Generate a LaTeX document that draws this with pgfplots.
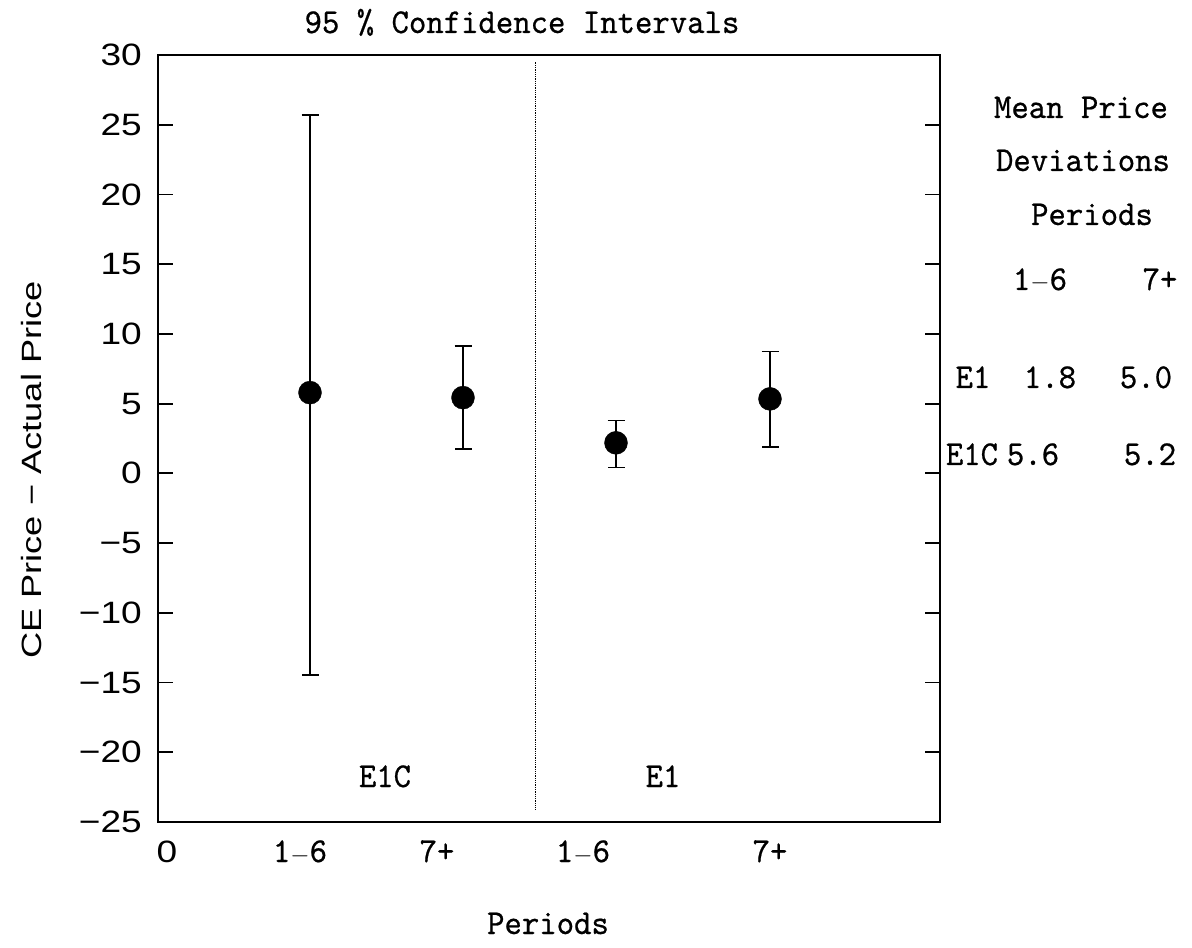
\documentclass[border=0pt]{standalone}
\usepackage{pgfplots}
\pgfplotsset{compat=1.18}
\usepackage{fontspec}
\newfontfamily\psans[FakeStretch=1.2]{Liberation Sans}
\newfontfamily\plab[FakeStretch=1.3]{Liberation Sans}
\newfontfamily\pmono[Extension=.otf, FakeBold=0.6, FakeStretch=0.95]{lmmono10-regular}
\newcommand{\monosz}{\pmono\fontsize{35}{40}\selectfont}
\newcommand{\ysz}{\psans\fontsize{31}{36}\selectfont}
\newcommand{\labsz}{\plab\fontsize{28}{33}\selectfont}
\newcommand{\mm}{\ensuremath{-}}
\begin{document}
\begin{tikzpicture}
\useasboundingbox (-158bp,-126bp) rectangle (1034bp,822bp);
\begin{axis}[
  at={(0,0)}, anchor=south west,
  scale only axis, width=782bp, height=767bp,
  xmin=0, xmax=782, ymin=-25, ymax=30,
  axis line style={line width=2.4bp},
  ytick={-25,-20,-15,-10,-5,0,5,10,15,20,25,30},
  yticklabels={{\ysz −25},{\ysz −20},{\ysz −15},{\ysz −10},{\ysz −5},{\ysz 0},{\ysz 5},{\ysz 10},{\ysz 15},{\ysz 20},{\ysz 25},{\ysz 30}},
  yticklabel style={inner sep=0pt, xshift=-16bp},
  ytick pos=both, yticklabel pos=left, tick align=inside,
  major tick length=15bp,
  every tick/.style={black, line width=1.8bp},
  xtick={9,142,279,425,612},
  xticklabels={{\ysz 0},{\monosz 1\mm6},{\monosz 7+},{\monosz 1\mm6},{\monosz 7+}},
  xtick style={draw=none},
  xticklabel style={inner sep=0pt, anchor=base, yshift=-40bp},
  clip=false,
]
\addplot[black, densely dotted, line width=0.8bp] coordinates {(377,-24.1) (377,29.5)};
\addplot[black, only marks, mark=*, mark size=11.5bp, mark options={fill=black},
  error bars/.cd, y dir=both, y explicit,
  error bar style={line width=1.5bp, black},
  error mark options={line width=1.6bp, mark size=8.5bp, rotate=90, black}]
  table[x=x, y=y, y error plus=ep, y error minus=em] {
x y ep em
152 5.79 19.91 20.23
305 5.43 3.71 3.67
458 2.19 1.60 1.77
612 5.34 3.39 3.46
};
\end{axis}
% inner group labels
\node[anchor=base, inner sep=0pt, font=\monosz] at (227bp,35bp) {E1C};
\node[anchor=base, inner sep=0pt, font=\monosz] at (505bp,35bp) {E1};
% title and x label
\node[anchor=base, inner sep=0pt, font=\monosz] at (364bp,789bp) {95 \% Confidence Intervals};
\node[anchor=base, inner sep=0pt, font=\monosz] at (390bp,-112bp) {Periods};
% y label
\node[rotate=90, inner sep=0pt, font=\labsz] at (-126bp,352bp) {CE Price − Actual Price};
% right block
\node[anchor=base, inner sep=0pt, font=\monosz] at (923bp,704bp) {Mean Price};
\node[anchor=base, inner sep=0pt, font=\monosz] at (925bp,651bp) {Deviations};
\node[anchor=base, inner sep=0pt, font=\monosz] at (934bp,597bp) {Periods};
\node[anchor=base, inner sep=0pt, font=\monosz] at (882bp,532bp) {1\mm6};
\node[anchor=base, inner sep=0pt, font=\monosz] at (1002bp,532bp) {7+};
\node[anchor=base, inner sep=0pt, font=\monosz] at (815bp,434bp) {E1};
\node[anchor=base, inner sep=0pt, font=\monosz] at (892bp,434bp) {1.8};
\node[anchor=base, inner sep=0pt, font=\monosz] at (988bp,434bp) {5.0};
\node[anchor=base, inner sep=0pt, font=\monosz] at (814bp,357bp) {E1C};
\node[anchor=base, inner sep=0pt, font=\monosz] at (875bp,357bp) {5.6};
\node[anchor=base, inner sep=0pt, font=\monosz] at (992bp,357bp) {5.2};
\end{tikzpicture}
\end{document}
